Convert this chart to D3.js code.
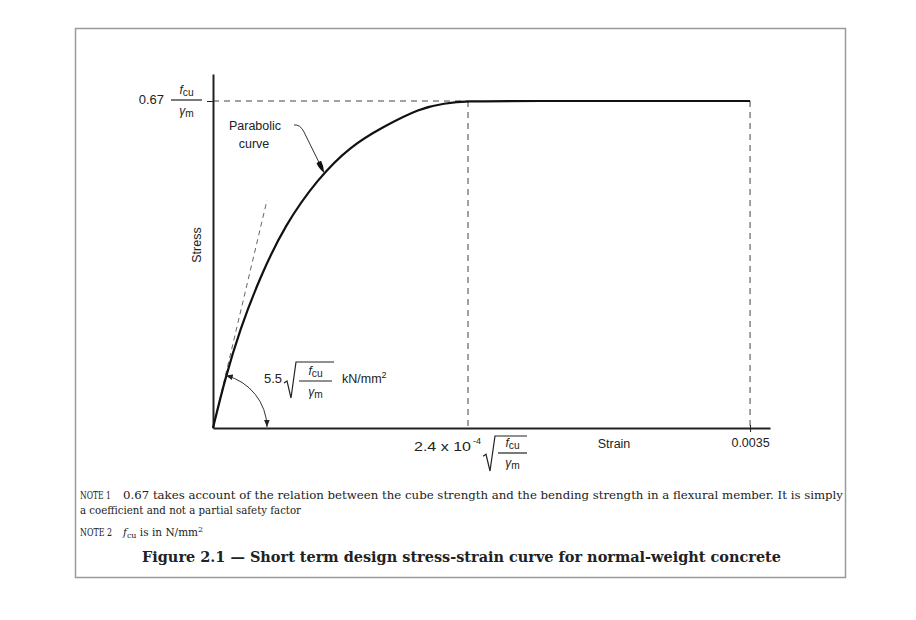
<!DOCTYPE html>
<html><head><meta charset="utf-8">
<script src="https://cdn.jsdelivr.net/npm/d3@7/dist/d3.min.js"></script>
<style>body{margin:0;background:#fff}svg{display:block}</style>
</head><body>
<script>
// ---- data (strain in per-mille, stress as fraction of 0.67 fcu/γm) ----
const curveStrain = [0, 0.078, 0.176, 0.306, 0.469, 0.684, 0.893, 1.108, 1.349, 1.506, 1.662, 1.9, 3.5];
const curveStress = [0, 0.150, 0.302, 0.461, 0.621, 0.763, 0.861, 0.921, 0.978, 0.993, 1.0, 1.0, 1.0];
const peakStrain = 1.662;      // 2.4e-4 sqrt(fcu/γm)
const ultimateStrain = 3.5;    // 0.0035
const tangentEnd = [0.352, 0.697]; // initial modulus line end
const xTickLabels = ["0.0035"];
const yLabel = "Stress", xLabel = "Strain";
const noteLines = [
  ["NOTE 1", "0.67 takes account of the relation between the cube strength and the bending strength in a flexural member. It is simply"],
  ["", "a coefficient and not a partial safety factor"]
];
const caption = "Figure 2.1 \u2014 Short term design stress-strain curve for normal-weight concrete";

const W = 916, H = 620;
const svg = d3.select("body").append("svg").attr("width", W).attr("height", H)
  .style("font-family", "'Liberation Sans', Arial, sans-serif");

svg.append("rect").attr("width", W).attr("height", H).attr("fill", "#fff");
svg.append("rect").attr("x", 75.5).attr("y", 28.5).attr("width", 770).attr("height", 549)
  .attr("fill", "#fff").attr("stroke", "#9a9a9a").attr("stroke-width", 1.5);

const x = d3.scaleLinear().domain([0, 3.63]).range([213, 770]);
const y = d3.scaleLinear().domain([0, 1.0826]).range([428, 74]);

const defs = svg.append("defs");
defs.append("marker").attr("id", "ah").attr("viewBox", "0 0 10 10").attr("refX", 10).attr("refY", 5)
  .attr("markerWidth", 7).attr("markerHeight", 7).attr("markerUnits", "userSpaceOnUse")
  .attr("orient", "auto-start-reverse")
  .append("path").attr("d", "M0,1 L10,5 L0,9 Z").attr("fill", "#222");
defs.append("marker").attr("id", "lead").attr("viewBox", "0 0 12 6").attr("refX", 12).attr("refY", 3)
  .attr("markerWidth", 12).attr("markerHeight", 6).attr("markerUnits", "userSpaceOnUse")
  .attr("orient", "auto")
  .append("path").attr("d", "M0,0.5 Q6,0 12,3 Q6,6 0,5.5 Z").attr("fill", "#111");

// dashed guides
const dash = svg.append("g").attr("stroke", "#444").attr("stroke-width", 1).attr("stroke-dasharray", "6,5").attr("fill", "none");
dash.append("line").attr("x1", x(0)).attr("x2", x(peakStrain)).attr("y1", y(1)).attr("y2", y(1));
dash.append("line").attr("x1", x(peakStrain)).attr("x2", x(peakStrain)).attr("y1", y(1)).attr("y2", y(0));
dash.append("line").attr("x1", x(ultimateStrain)).attr("x2", x(ultimateStrain)).attr("y1", y(1)).attr("y2", y(0));
dash.append("line").attr("x1", x(0)).attr("y1", y(0)).attr("x2", x(tangentEnd[0])).attr("y2", y(tangentEnd[1]))
  .attr("stroke-dasharray", "5,4").attr("stroke", "#666");

// axes
const xAxis = d3.axisBottom(x).tickValues([ultimateStrain]).tickSize(4).tickSizeOuter(0).tickPadding(6)
  .tickFormat((d, i) => xTickLabels[i]);
const gx = svg.append("g").attr("transform", `translate(0,${y(0)})`).call(xAxis);
gx.select(".domain").attr("stroke", "#222").attr("stroke-width", 2);
gx.selectAll(".tick line").attr("stroke", "#222").attr("y1", -3);
gx.selectAll(".tick text").attr("font-size", 12.5).attr("font-family", "'Liberation Sans', Arial, sans-serif").attr("fill", "#222");

const yAxis = d3.axisLeft(y).tickValues([1]).tickSize(6).tickSizeOuter(0).tickFormat("");
const gy = svg.append("g").attr("transform", `translate(${x(0)},0)`).call(yAxis);
gy.select(".domain").attr("stroke", "#222").attr("stroke-width", 2);
gy.selectAll(".tick line").attr("stroke", "#222");

// curve
const pts = curveStrain.map((s, i) => [s, curveStress[i]]);
svg.append("path").datum(pts)
  .attr("d", d3.line().x(d => x(d[0])).y(d => y(d[1])).curve(d3.curveBasis))
  .attr("fill", "none").attr("stroke", "#111").attr("stroke-width", 2.2);

// angle arc
const cx = x(0), cy = y(0), r = 54;
const th = Math.atan2(y(0) - y(curveStress[1]), x(curveStrain[1]) - x(0));
svg.append("path")
  .attr("d", `M${cx + r * Math.cos(th)},${cy - r * Math.sin(th)} A${r},${r} 0 0 1 ${cx + r},${cy - 1}`)
  .attr("fill", "none").attr("stroke", "#333").attr("stroke-width", 1)
  .attr("marker-start", "url(#ah)").attr("marker-end", "url(#ah)");

// helpers
function fcu(g, cx, base, fs) {
  const t = g.append("text").attr("x", cx).attr("y", base).attr("text-anchor", "middle").attr("font-size", fs).attr("fill", "#222");
  t.append("tspan").attr("font-style", "italic").text("f");
  t.append("tspan").attr("font-size", fs * 0.85).attr("dy", 2).text("cu");
}
function gm(g, cx, base, fs) {
  const t = g.append("text").attr("x", cx).attr("y", base).attr("text-anchor", "middle").attr("font-size", fs).attr("fill", "#222");
  t.append("tspan").attr("font-style", "italic").text("\u03b3");
  t.append("tspan").attr("font-size", fs * 0.85).attr("dy", 2).text("m");
}
function frac(g, x1, x2, yBar, nb, db, fs) {
  fcu(g, (x1 + x2) / 2, nb, fs);
  g.append("line").attr("x1", x1).attr("x2", x2).attr("y1", yBar).attr("y2", yBar).attr("stroke", "#222").attr("stroke-width", 1.2);
  gm(g, (x1 + x2) / 2, db, fs);
}
function radical(g, x0, yt, yb, xe) {
  const ym = yb - (yb - yt) * 0.42;
  g.append("path").attr("d", `M${x0},${ym} L${x0 + 3},${ym - 2} L${x0 + 7},${yb} L${x0 + 12},${yt} L${xe},${yt}`)
    .attr("fill", "none").attr("stroke", "#222").attr("stroke-width", 1.2);
}
const ann = svg.append("g");

// y value label 0.67 fcu/γm
ann.append("text").attr("x", 164).attr("y", 104).attr("text-anchor", "end").attr("font-size", 13).attr("fill", "#222").text("0.67");
frac(ann, 171, 202, 100, 94, 115, 12);

// modulus label
ann.append("text").attr("x", 264).attr("y", 383).attr("font-size", 13).attr("fill", "#222").text("5.5");
radical(ann, 284, 362, 398, 334);
frac(ann, 299, 332, 381, 375, 396, 12);
const kt = ann.append("text").attr("x", 342).attr("y", 383).attr("font-size", 12.5).attr("fill", "#222");
kt.append("tspan").text("kN/mm");
kt.append("tspan").attr("font-size", 9).attr("dy", -5).text("2");

// peak strain label
ann.append("text").attr("x", 414).attr("y", 451).attr("font-size", 13.5).attr("fill", "#222")
  .attr("textLength", 57).attr("lengthAdjust", "spacingAndGlyphs").text("2.4 x 10");
ann.append("text").attr("x", 473).attr("y", 444).attr("font-size", 9).attr("fill", "#222").text("-4");
radical(ann, 483, 436, 471, 527);
frac(ann, 498, 527, 453, 447, 467, 12);

// axis titles
ann.append("text").attr("x", 614).attr("y", 448).attr("text-anchor", "middle").attr("font-size", 12.5).attr("fill", "#222").text(xLabel);
ann.append("text").attr("transform", "translate(201,245) rotate(-90)").attr("text-anchor", "middle").attr("font-size", 12.5).attr("fill", "#222").text(yLabel);

// parabolic curve label and leader
ann.append("text").attr("x", 255).attr("y", 130).attr("text-anchor", "middle").attr("font-size", 12.5).attr("fill", "#222").text("Parabolic");
ann.append("text").attr("x", 254).attr("y", 148).attr("text-anchor", "middle").attr("font-size", 12.5).attr("fill", "#222").text("curve");
ann.append("path").attr("d", `M294,125 Q300,124 304,132 L${x(0.73) - 1},${y(0.775) - 2}`)
  .attr("fill", "none").attr("stroke", "#333").attr("stroke-width", 1).attr("marker-end", "url(#lead)");

// notes
const serif = "'DejaVu Serif', 'Liberation Serif', serif";
const nt = svg.append("g").attr("font-family", serif).attr("fill", "#222").attr("font-size", 10.5);
nt.append("text").attr("x", 80).attr("y", 499).attr("textLength", 31).attr("lengthAdjust", "spacingAndGlyphs").text(noteLines[0][0]);
nt.append("text").attr("x", 123).attr("y", 499).attr("textLength", 720).attr("lengthAdjust", "spacingAndGlyphs").text(noteLines[0][1]);
nt.append("text").attr("x", 80).attr("y", 514).attr("textLength", 221).attr("lengthAdjust", "spacingAndGlyphs").text(noteLines[1][1]);
nt.append("text").attr("x", 80).attr("y", 536).attr("textLength", 32).attr("lengthAdjust", "spacingAndGlyphs").text("NOTE 2");
const n2 = nt.append("text").attr("x", 123).attr("y", 536);
n2.append("tspan").attr("font-style", "italic").text("f");
n2.append("tspan").attr("font-size", 8).attr("dy", 2).text("cu");
n2.append("tspan").attr("dy", -2).text(" is in N/mm");
n2.append("tspan").attr("font-size", 8).attr("dy", -4).text("2");
svg.append("text").attr("x", 142).attr("y", 562).attr("font-family", serif).attr("font-weight", "bold")
  .attr("font-size", 14).attr("fill", "#222").attr("textLength", 639).attr("lengthAdjust", "spacingAndGlyphs").text(caption);
</script>
</body></html>
